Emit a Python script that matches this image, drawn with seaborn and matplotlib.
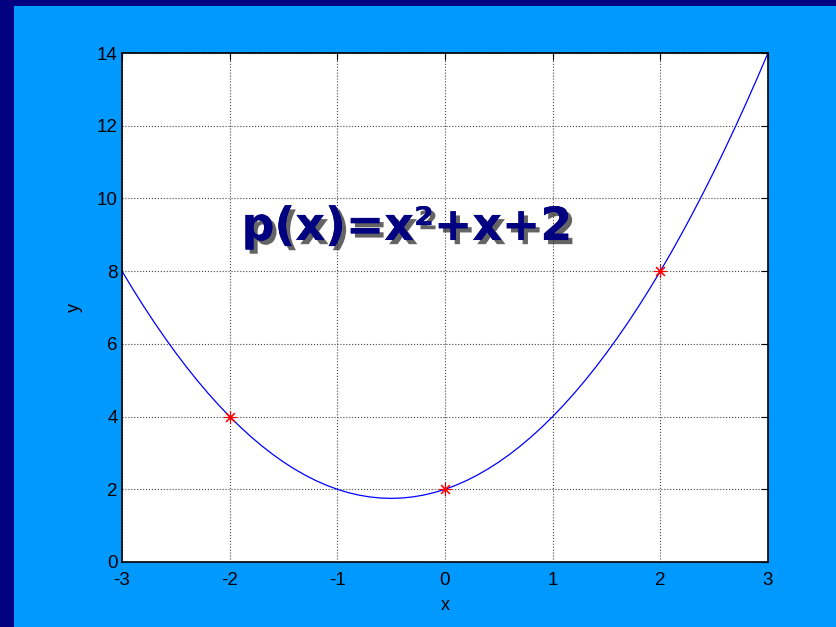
import numpy as np
import matplotlib
matplotlib.use("Agg")
import matplotlib.pyplot as plt
import matplotlib.patheffects as pe
from matplotlib.patches import Rectangle
import seaborn as sns

# sample points and the interpolating polynomial
x_pts = [-2, 0, 2]
y_pts = [4, 2, 8]
label = "p(x)=x²+x+2"

coef = np.polyfit(x_pts, y_pts, 2)
xs = np.linspace(-3, 3, 61)
curve = np.polyval(coef, xs)

sns.set_style("white")
plt.rcParams["font.family"] = ["Liberation Sans", "DejaVu Sans"]
plt.rcParams["axes.unicode_minus"] = False
plt.rcParams["text.color"] = "black"
plt.rcParams["axes.labelcolor"] = "black"
plt.rcParams["xtick.color"] = "black"
plt.rcParams["ytick.color"] = "black"

fig = plt.figure(figsize=(8.37, 6.27), dpi=100)
fig.patch.set_facecolor("#0099FF")
# navy slide border strips (left and top)
fig.patches.append(Rectangle((0, 0), 14 / 837, 1, transform=fig.transFigure,
                             facecolor="#000080", edgecolor="none"))
fig.patches.append(Rectangle((0, 1 - 6 / 627), 1, 6 / 627, transform=fig.transFigure,
                             facecolor="#000080", edgecolor="none"))

ax = fig.add_axes([122 / 837, 1 - 562 / 627, 646 / 837, 509 / 627])
ax.set_facecolor("white")

sns.lineplot(x=xs, y=curve, ax=ax, color="blue", linewidth=0.9, estimator=None, sort=False)
ax.plot(x_pts, y_pts, linestyle="none", marker=(8, 2, 0), color="red",
        markersize=9, markeredgewidth=0.8)

ax.set_xlim(-3, 3)
ax.set_ylim(0, 14)
ax.set_xticks(range(-3, 4))
ax.set_yticks(range(0, 15, 2))
ax.grid(True, color="#444444", linestyle=":", linewidth=0.8)
ax.tick_params(direction="in", length=5, top=True, right=True, labelsize=13.5,
               color="black", pad=3)
ax.tick_params(axis="x", pad=7)
for s in ax.spines.values():
    s.set_visible(True)
    s.set_color("black")
    s.set_linewidth(1.2)

ax.set_xlabel("x", fontsize=13, labelpad=6)
ax.set_ylabel("y", fontsize=13, labelpad=10)

ax.text(-0.35, 9.2, label, fontsize=33, fontweight="bold", color="#000080",
        family="DejaVu Sans", ha="center", va="center",
        path_effects=[pe.withSimplePatchShadow(offset=(3, -3), shadow_rgbFace="#222222",
                                               alpha=0.7), pe.Normal()])

fig.savefig("out.png", dpi=100, facecolor=fig.get_facecolor())
